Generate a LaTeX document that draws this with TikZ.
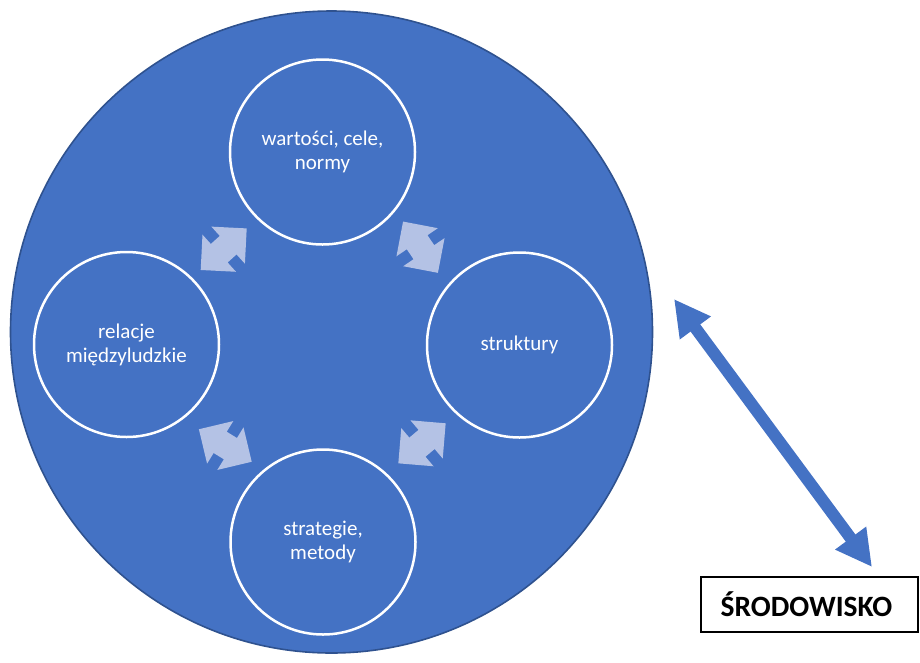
\documentclass[tikz,border=0pt]{standalone}
\usepackage{fontspec}
\setmainfont{Carlito}
\usetikzlibrary{arrows.meta}
\definecolor{orgblue}{HTML}{4472C4}
\definecolor{orgedge}{HTML}{2F528F}
\definecolor{linkfill}{HTML}{B4C2E5}
\begin{document}
\begin{tikzpicture}[x=1pt,y=-1pt,
  organisation/.style={circle, fill=orgblue, draw=orgedge, line width=1.6pt,
    minimum size=642pt, inner sep=0pt},
  area/.style={circle, draw=white, line width=2.5pt, minimum size=185pt,
    inner sep=0pt, text=white, align=center, font=\fontsize{21}{24}\selectfont},
  envbox/.style={draw=black, line width=1.5pt, fill=white, minimum width=217pt,
    minimum height=55pt, inner sep=0pt},
  envlabel/.style={font=\bfseries\fontsize{29.5}{32}\selectfont, inner sep=0pt},
  exchange/.style={orgblue, line width=12pt,
    {Triangle[length=36pt,width=36pt]}-{Triangle[length=36pt,width=36pt]}},
  linkarrow/.pic={\fill[linkfill] (31,0) -- (6,25) -- (6,12.5) -- (-6,12.5)
    -- (-6,25) -- (-31,0) -- (-6,-25) -- (-6,-12.5) -- (6,-12.5) -- (6,-25) -- cycle;}
]
\useasboundingbox (0,0) rectangle (920,662);

% the organisation and its four areas
\node[organisation] (org) at (331.5,332) {};
\node[area] (values) at (322.5,152) {wartości, cele,\\normy};
\node[area] (relations) at (126.5,344.5) {relacje\\międzyludzkie};
\node[area] (structures) at (519.5,345) {\raisebox{-2pt}{struktury}};
\node[area] (methods) at (323,542) {strategie,\\metody};

% mutual influence between neighbouring areas
\pic[rotate=42.1] at (223.7,249.2) {linkarrow};
\pic[rotate=-55.8] at (420.5,247.2) {linkarrow};
\pic[rotate=-31.6] at (225.3,445.5) {linkarrow};
\pic[rotate=40.2] at (422,443.3) {linkarrow};

% the environment and its exchange with the organisation
\node[envbox] (env) at (809.5,604.5) {};
\node[envlabel, anchor=base] (envtext) at (806.5,616.7) {ŚRODOWISKO};
\coordinate (envA) at (674,299);
\coordinate (envB) at (872,567);
\draw[exchange] (envA) -- (envB);
\end{tikzpicture}
\end{document}
